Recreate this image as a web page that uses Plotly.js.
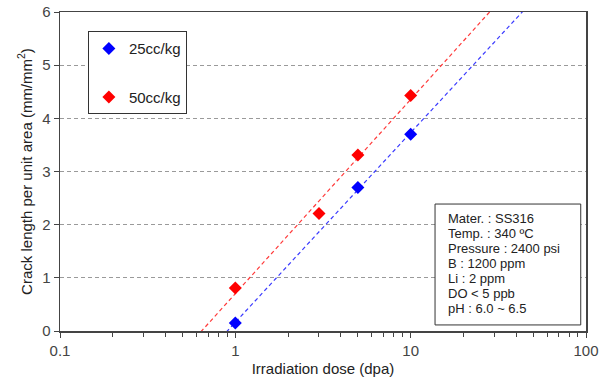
<!DOCTYPE html>
<html>
<head>
<meta charset="utf-8">
<script src="https://cdn.plot.ly/plotly-3.0.1.min.js"></script>
<style>html,body{margin:0;padding:0;background:#fff}#chart{width:608px;height:382px}</style>
</head>
<body>
<div id="chart"></div>
<script>
// Data
const dose25 = [1, 5, 10];
const crack25 = [0.15, 2.70, 3.70];
const dose50 = [1, 3, 5, 10];
const crack50 = [0.81, 2.21, 3.31, 4.43];
const seriesNames = ["25cc/kg", "50cc/kg"];
const xTickVals = [0.1, 1, 10, 100];
const xTickText = ["0.1", "1", "10", "100"];
const yTickVals = [0, 1, 2, 3, 4, 5, 6];
const infoLines = ["Mater. : SS316", "Temp. : 340 ºC", "Pressure : 2400 psi", "B : 1200 ppm", "Li : 2 ppm", "DO < 5 ppb", "pH : 6.0 ~ 6.5"];

// Logarithmic trend line (y = a*log10(x) + b), least squares on the data
function logFit(xs, ys) {
  const lx = xs.map(v => Math.log10(v));
  const n = lx.length;
  const mx = lx.reduce((s, v) => s + v, 0) / n;
  const my = ys.reduce((s, v) => s + v, 0) / n;
  let sxx = 0, sxy = 0;
  for (let i = 0; i < n; i++) { sxx += (lx[i] - mx) ** 2; sxy += (lx[i] - mx) * (ys[i] - my); }
  const a = sxy / sxx, b = my - a * mx;
  const fx = [];
  const fy = [];
  for (let e = -1; e <= 2.0001; e += 0.05) { fx.push(Math.pow(10, e)); fy.push(a * e + b); }
  return {x: fx, y: fy};
}
const fit25 = logFit(dose25, crack25);
const fit50 = logFit(dose50, crack50);

const blue = "#0000ff", red = "#ff0000";
const font = "Liberation Sans, Arial, sans-serif";

const traces = [
  {x: fit25.x, y: fit25.y, mode: "lines", line: {color: "#3a3aff", width: 1.2, dash: "4px,3px"}, showlegend: false, hoverinfo: "skip"},
  {x: fit50.x, y: fit50.y, mode: "lines", line: {color: "#ff3a3a", width: 1.2, dash: "4px,3px"}, showlegend: false, hoverinfo: "skip"},
  {x: dose25, y: crack25, mode: "markers", name: seriesNames[0], legendgroup: "a",
   marker: {symbol: "diamond", size: 10, color: blue}},
  {x: dose50, y: crack50, mode: "markers", name: seriesNames[1], legendgroup: "b",
   marker: {symbol: "diamond", size: 10, color: red}}
];

// Info box: a rectangle with one text line per annotation
const boxX0 = 0.713, boxX1 = 0.990, boxY0 = 0.019, boxY1 = 0.398;
const lineX = 0.733, lineTop = 0.354, lineStep = 0.047;
const annotations = infoLines.map((t, i) => ({
  xref: "paper", yref: "paper", x: lineX, y: lineTop - i * lineStep,
  xanchor: "left", yanchor: "middle", text: t, showarrow: false,
  font: {family: font, size: 13, color: "#222"}
}));

const layout = {
  width: 608, height: 382,
  margin: {l: 60, r: 22, t: 12, b: 51},
  paper_bgcolor: "#fff", plot_bgcolor: "#fff",
  font: {family: font, size: 14, color: "#444"},
  xaxis: {
    type: "log", range: [-1, 2],
    tickvals: xTickVals, ticktext: xTickText,
    ticks: "outside", ticklen: 5, tickcolor: "#444",
    minor: {ticks: "outside", ticklen: 4, tickcolor: "#444", dtick: "D1", showgrid: false},
    showgrid: false, zeroline: false,
    showline: true, linecolor: "#444", linewidth: 1.5, mirror: true,
    tickfont: {size: 15, color: "#444"},
    title: {text: "Irradiation dose (dpa)", font: {size: 15, color: "#222"}, standoff: 6}
  },
  yaxis: {
    range: [0, 6], tickvals: yTickVals,
    ticks: "outside", ticklen: 5, tickcolor: "#444",
    showgrid: true, gridcolor: "#9a9a9a", griddash: "4px,3px", gridwidth: 1,
    zeroline: false,
    showline: true, linecolor: "#444", linewidth: 1.5, mirror: true,
    tickfont: {size: 15, color: "#444"},
    title: {text: "Crack length per unit area (mm/mm<sup>2</sup>)", font: {size: 15, color: "#222"}, standoff: 6}
  },
  legend: {
    x: 0.053, y: 0.94, xanchor: "left", yanchor: "top",
    bgcolor: "#fff", bordercolor: "#333", borderwidth: 1,
    font: {family: font, size: 15, color: "#222"},
    tracegroupgap: 26, traceorder: "grouped", itemwidth: 30
  },
  shapes: [{
    type: "rect", xref: "paper", yref: "paper",
    x0: boxX0, x1: boxX1, y0: boxY0, y1: boxY1,
    line: {color: "#333", width: 1}, fillcolor: "#fff", layer: "above"
  }],
  annotations: annotations
};

Plotly.newPlot("chart", traces, layout, {displayModeBar: false, staticPlot: true});
</script>
</body>
</html>
